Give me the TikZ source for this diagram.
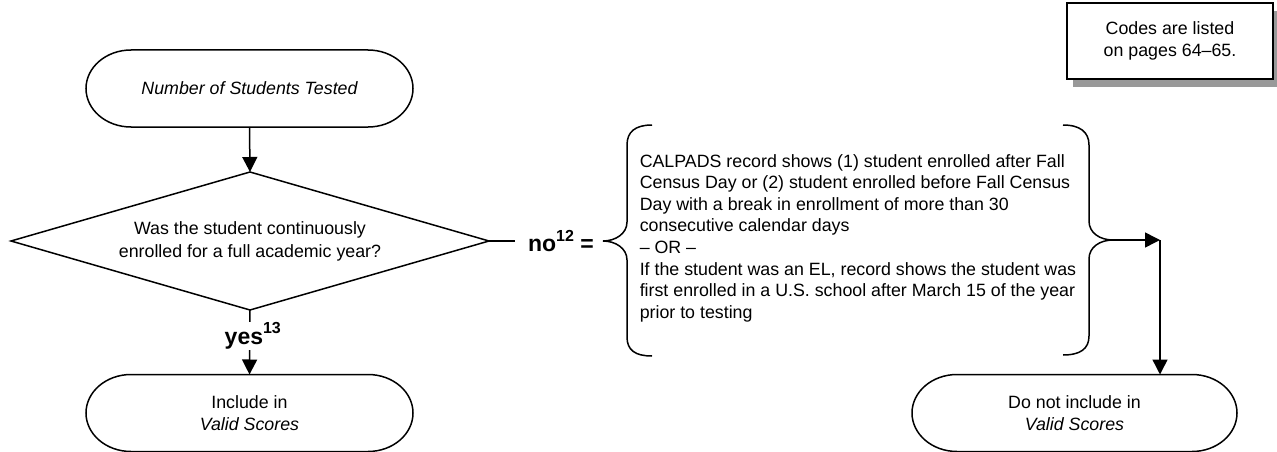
\documentclass[tikz,border=0pt]{standalone}
\usepackage{fontspec}
\setmainfont{Liberation Sans}
\usetikzlibrary{arrows.meta}
\newcommand\fsreg{\fontsize{17.8pt}{21.6pt}\selectfont}
\newcommand\fsdia{\fontsize{17.8pt}{23pt}\selectfont}
\newcommand\fsterm{\fontsize{17.8pt}{22pt}\selectfont}
\newcommand\fsbold{\fontsize{23pt}{26pt}\selectfont\bfseries}
\newcommand\supnum[1]{\raisebox{10.5pt}{\fontsize{16pt}{16pt}\selectfont\bfseries #1}}
\newcommand\termoutline[1]{\draw ([xshift=45pt]#1.north west) -- ([xshift=-45pt]#1.north east)
  arc[start angle=90,end angle=-90,x radius=45pt,y radius=38.5pt]
  -- ([xshift=45pt]#1.south west)
  arc[start angle=270,end angle=90,x radius=45pt,y radius=38.5pt] -- cycle;}
\begin{document}
\begin{tikzpicture}[x=1pt,y=1pt,line width=1.5pt,
  arr/.style={-{Triangle[length=15pt,width=15pt]}},
  termbox/.style={minimum width=327pt,minimum height=77pt,inner sep=0pt,outer sep=0pt,align=center,font=\fsterm},
  lbl/.style={font=\fsbold}]
\useasboundingbox (0,0) rectangle (1277,-452);

% codes box with shadow
\fill[black!40] (1073,-11) rectangle (1279,-87);
\node[draw,fill=white,minimum width=206pt,minimum height=76pt,inner sep=0pt,align=center,font=\fsreg] (codes) at (1170,-41) {Codes are listed\\on pages 64--65.};

% start terminal
\node[termbox] (start) at (249.5,-88.5) {\itshape Number of Students Tested};
\termoutline{start}

% decision
\node[minimum width=478pt,minimum height=138pt,inner sep=0pt,outer sep=0pt,align=center,font=\fsdia] (dia) at (250,-241)
  {Was the student continuously\\enrolled for a full academic year?};
\draw (dia.west) -- (dia.north) -- (dia.east) -- (dia.south) -- cycle;

% include terminal
\node[termbox] (inc) at (249.5,-413) {Include in\\\itshape Valid Scores};
\termoutline{inc}

% do not include terminal
\node[termbox,minimum width=325pt] (dni) at (1074.5,-413) {Do not include in\\\itshape Valid Scores};
\termoutline{dni}

\draw[arr] (start.south) -- (dia.north);
\draw[arr] (dia.south) -- (inc.north) node[pos=0.4,fill=white,inner xsep=0pt,inner ysep=1pt,lbl,xshift=3pt] (yes) {yes\supnum{13}};

% no label
\node[lbl,inner xsep=12pt,inner ysep=1pt] (no) at (561,-241) {no\supnum{12} =};
\draw (dia.east) -- (no.west);

% condition text
\node[anchor=west,inner sep=0pt,align=left,font=\fsreg] (cond) at (639,-238)
  {CALPADS record shows (1) student enrolled after Fall\\
   Census Day or (2) student enrolled before Fall Census\\
   Day with a break in enrollment of more than 30\\
   consecutive calendar days\\
   -- OR --\\
   If the student was an EL, record shows the student was\\
   first enrolled in a U.S. school after March 15 of the year\\
   prior to testing};

% left brace
\draw (652,-125) .. controls (635,-125) and (627,-132) .. (627,-145) -- (627,-222)
  .. controls (627,-234) and (615,-241) .. (603,-241)
  .. controls (615,-241) and (627,-248) .. (627,-260) -- (627,-337)
  .. controls (627,-350) and (635,-356) .. (652,-356);

% right brace
\draw (1063,-125) .. controls (1080,-125) and (1089,-132) .. (1089,-145) -- (1089,-221)
  .. controls (1089,-233) and (1100,-240) .. (1113,-240)
  .. controls (1100,-240) and (1089,-247) .. (1089,-259) -- (1089,-336)
  .. controls (1089,-349) and (1080,-355) .. (1063,-355);

\coordinate (rtip) at (1113,-240);
\coordinate (corner) at (1160,-240);
\draw[arr] (rtip) -- (corner);
\draw[arr] (corner) -- (corner |- dni.north);
\end{tikzpicture}
\end{document}
